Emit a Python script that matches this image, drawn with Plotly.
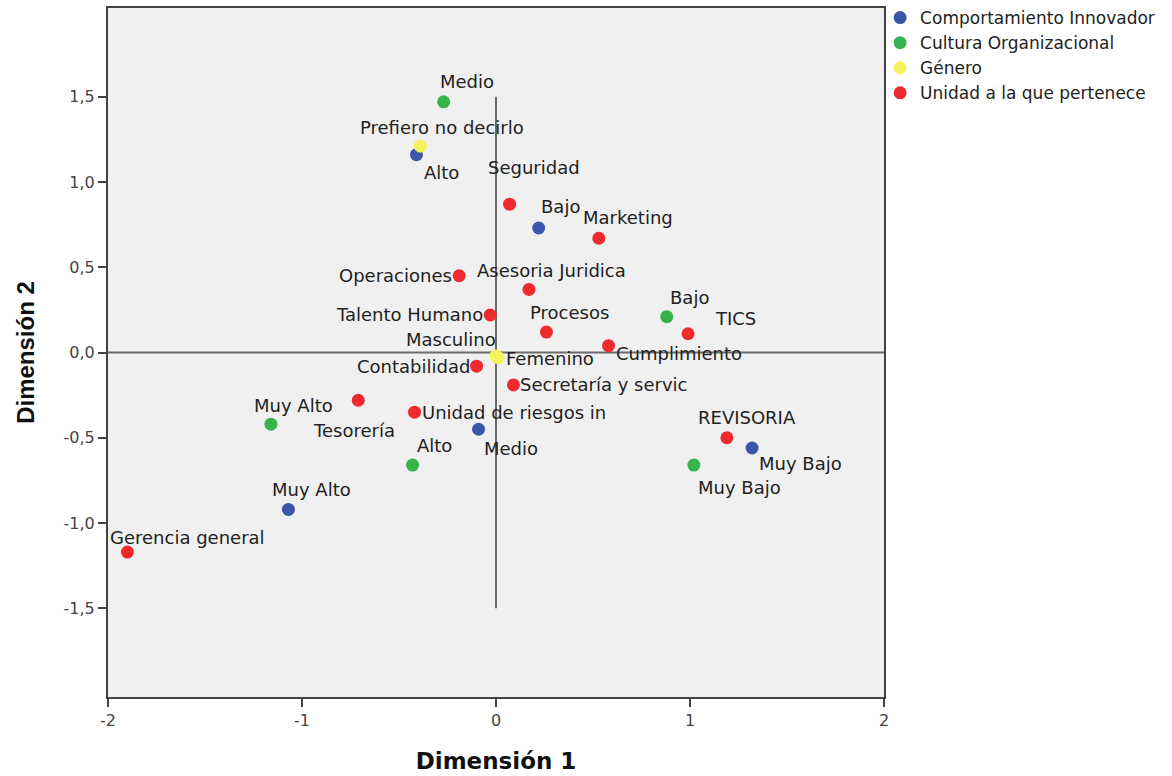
import plotly.graph_objects as go

# ---- data ----
ci_labels = ["Alto", "Bajo", "Medio", "Muy Alto", "Muy Bajo"]
ci_x = [-0.41, 0.22, -0.09, -1.07, 1.32]
ci_y = [1.16, 0.73, -0.45, -0.92, -0.56]

co_labels = ["Medio", "Bajo", "Muy Alto", "Alto", "Muy Bajo"]
co_x = [-0.27, 0.88, -1.16, -0.43, 1.02]
co_y = [1.47, 0.21, -0.42, -0.66, -0.66]

ge_labels = ["Prefiero no decirlo", "Masculino", "Femenino"]
ge_x = [-0.39, 0.00, 0.01]
ge_y = [1.21, -0.02, -0.03]

un_labels = ["Seguridad", "Marketing", "Operaciones", "Asesoria Juridica",
             "Talento Humano", "Procesos", "TICS", "Cumplimiento",
             "Contabilidad", "Secretaría y servic", "Tesorería",
             "Unidad de riesgos in", "REVISORIA", "Gerencia general"]
un_x = [0.07, 0.53, -0.19, 0.17, -0.03, 0.26, 0.99, 0.58, -0.10, 0.09,
        -0.71, -0.42, 1.19, -1.90]
un_y = [0.87, 0.67, 0.45, 0.37, 0.22, 0.12, 0.11, 0.04, -0.08, -0.19,
        -0.28, -0.35, -0.50, -1.17]

y_tickvals = [-1.5, -1.0, -0.5, 0.0, 0.5, 1.0, 1.5]
y_ticktext = ["-1,5", "-1,0", "-0,5", "0,0", "0,5", "1,0", "1,5"]
x_tickvals = [-2, -1, 0, 1, 2]
x_ticktext = ["-2", "-1", "0", "1", "2"]

# ---- style ----
series = [
    ("Comportamiento Innovador", ci_labels, ci_x, ci_y, "#3a56a8"),
    ("Cultura Organizacional", co_labels, co_x, co_y, "#36b34a"),
    ("Género", ge_labels, ge_x, ge_y, "#f4f35c"),
    ("Unidad a la que pertenece", un_labels, un_x, un_y, "#ee2a2f"),
]

# label placement: (xanchor, xshift, yshift) per (series, label)
label_pos = {
    ("Comportamiento Innovador", "Alto"): ("center", 25, -18),
    ("Comportamiento Innovador", "Bajo"): ("center", 22, 22),
    ("Comportamiento Innovador", "Medio"): ("center", 32, -19),
    ("Comportamiento Innovador", "Muy Alto"): ("center", 23, 20),
    ("Comportamiento Innovador", "Muy Bajo"): ("center", 48, -15),
    ("Cultura Organizacional", "Medio"): ("center", 23, 20),
    ("Cultura Organizacional", "Bajo"): ("center", 23, 19),
    ("Cultura Organizacional", "Muy Alto"): ("center", 23, 19),
    ("Cultura Organizacional", "Alto"): ("center", 22, 20),
    ("Cultura Organizacional", "Muy Bajo"): ("center", 46, -22),
    ("Género", "Prefiero no decirlo"): ("center", 22, 19),
    ("Género", "Masculino"): ("center", -45, 16),
    ("Género", "Femenino"): ("left", 6, -1),
    ("Unidad a la que pertenece", "Seguridad"): ("center", 24, 37),
    ("Unidad a la que pertenece", "Marketing"): ("center", 29, 21),
    ("Unidad a la que pertenece", "Operaciones"): ("right", -5, 0),
    ("Unidad a la que pertenece", "Asesoria Juridica"): ("center", 23, 19),
    ("Unidad a la que pertenece", "Talento Humano"): ("right", -5, 0),
    ("Unidad a la que pertenece", "Procesos"): ("center", 23, 20),
    ("Unidad a la que pertenece", "TICS"): ("center", 47, 15),
    ("Unidad a la que pertenece", "Cumplimiento"): ("left", 5, -8),
    ("Unidad a la que pertenece", "Contabilidad"): ("right", -5, 0),
    ("Unidad a la que pertenece", "Secretaría y servic"): ("left", 5, 0),
    ("Unidad a la que pertenece", "Tesorería"): ("center", -4, -30),
    ("Unidad a la que pertenece", "Unidad de riesgos in"): ("left", 5, 0),
    ("Unidad a la que pertenece", "REVISORIA"): ("center", 20, 20),
    ("Unidad a la que pertenece", "Gerencia general"): ("center", 60, 15),
}

FONT = "DejaVu Sans, Liberation Sans, Arial, sans-serif"
fig = go.Figure()
annotations = []
for name, labels, xs, ys, color in series:
    fig.add_trace(go.Scatter(
        x=xs, y=ys, mode="markers", name=name, text=labels,
        marker=dict(size=13, color=color, line=dict(width=0)),
        hoverinfo="text+name",
    ))
    for lab, xv, yv in zip(labels, xs, ys):
        anchor, dx, dy = label_pos[(name, lab)]
        annotations.append(dict(
            x=xv, y=yv, xref="x", yref="y", text=lab, showarrow=False,
            xanchor=anchor, yanchor="middle", xshift=dx, yshift=dy,
            font=dict(family=FONT, size=18, color="#222222"),
        ))

shapes = [
    dict(type="line", xref="x", yref="y", x0=0, x1=0, y0=-1.5, y1=1.5,
         line=dict(color="#6b6b6b", width=2), layer="below"),
    dict(type="line", xref="x", yref="y", x0=-2, x1=2, y0=0, y1=0,
         line=dict(color="#6b6b6b", width=2), layer="below"),
]

fig.update_layout(
    width=1172, height=776,
    margin=dict(l=108, r=288, t=8, b=79, autoexpand=False),
    paper_bgcolor="white", plot_bgcolor="#f0f0f0",
    font=dict(family=FONT, size=15, color="#333333"),
    showlegend=True,
    legend=dict(x=0.995, xanchor="left", y=1.0, yref="container",
                yanchor="top",
                font=dict(family=FONT, size=17, color="#222222"),
                bgcolor="rgba(0,0,0,0)", tracegroupgap=0),
    annotations=annotations, shapes=shapes,
)
fig.update_xaxes(
    range=[-2, 2], tickvals=x_tickvals, ticktext=x_ticktext,
    showgrid=False, zeroline=False, showline=True, mirror=True,
    linecolor="#444444", linewidth=2, ticks="outside", ticklen=8,
    tickwidth=2, tickcolor="#444444",
    tickfont=dict(family=FONT, size=16, color="#444444"),
    title=dict(text="<b>Dimensión 1</b>", standoff=24,
               font=dict(family="DejaVu Sans, Liberation Sans", size=23, color="#111111")),
)
fig.update_yaxes(
    range=[-2.02, 2.02], tickvals=y_tickvals, ticktext=y_ticktext,
    showgrid=False, zeroline=False, showline=True, mirror=True,
    linecolor="#444444", linewidth=2, ticks="outside", ticklen=8,
    tickwidth=2, tickcolor="#444444",
    tickfont=dict(family=FONT, size=16, color="#444444"),
    title=dict(text="<b>Dimensión 2</b>", standoff=22,
               font=dict(family="Liberation Sans, Arial", size=24, color="#111111")),
)

fig.write_html("out.html", config={"displayModeBar": False},
               post_script="document.body.style.margin='0';")
